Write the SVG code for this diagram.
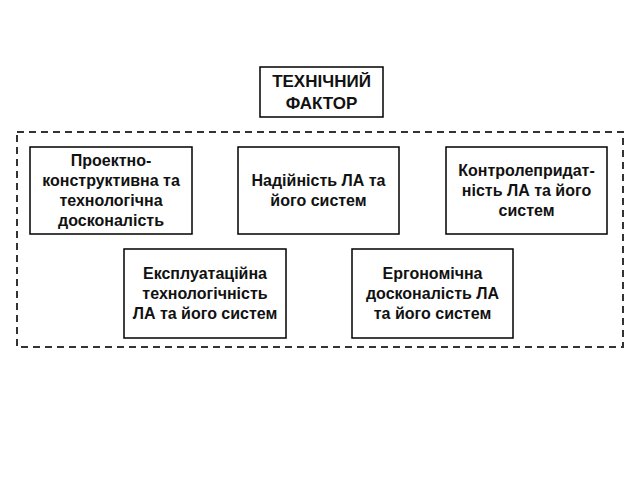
<svg xmlns="http://www.w3.org/2000/svg" width="640" height="480" viewBox="0 0 640 480">
<style>
.box{fill:#fff;stroke:#000;stroke-width:1.5}
.dash{fill:none;stroke:#333;stroke-width:2;stroke-dasharray:7,5}
text{font-family:"Liberation Sans",Arial,sans-serif;font-weight:bold;font-size:16px;fill:#111;text-anchor:middle}
.t{font-size:17px}
</style>
<rect width="640" height="480" fill="#fff"/>
<g id="connectors"></g>
<g id="group"><rect class="dash" x="17" y="132" width="606" height="215"/></g>
<g id="n0"><rect class="box" x="260" y="67" width="123" height="50"/>
<text class="t" x="321.5" y="87">ТЕХНІЧНИЙ</text><text class="t" x="321.5" y="109">ФАКТОР</text></g>
<g id="n1"><rect class="box" x="30" y="147" width="162" height="87"/>
<text x="111" y="166">Проектно-</text><text x="111" y="186">конструктивна та</text><text x="111" y="206">технологічна</text><text x="111" y="226">досконалість</text></g>
<g id="n2"><rect class="box" x="238" y="147" width="161" height="87"/>
<text x="318.5" y="186">Надійність ЛА та</text><text x="318.5" y="206">його систем</text></g>
<g id="n3"><rect class="box" x="446" y="147" width="161" height="87"/>
<text x="526.5" y="176">Контролепридат-</text><text x="526.5" y="196">ність ЛА та його</text><text x="526.5" y="216">систем</text></g>
<g id="n4"><rect class="box" x="124" y="249" width="162" height="89"/>
<text x="205" y="279">Експлуатаційна</text><text x="205" y="299">технологічність</text><text x="205" y="319">ЛА та його систем</text></g>
<g id="n5"><rect class="box" x="352" y="249" width="161" height="89"/>
<text x="432.5" y="279">Ергономічна</text><text x="432.5" y="299">досконалість ЛА</text><text x="432.5" y="319">та його систем</text></g>
</svg>
